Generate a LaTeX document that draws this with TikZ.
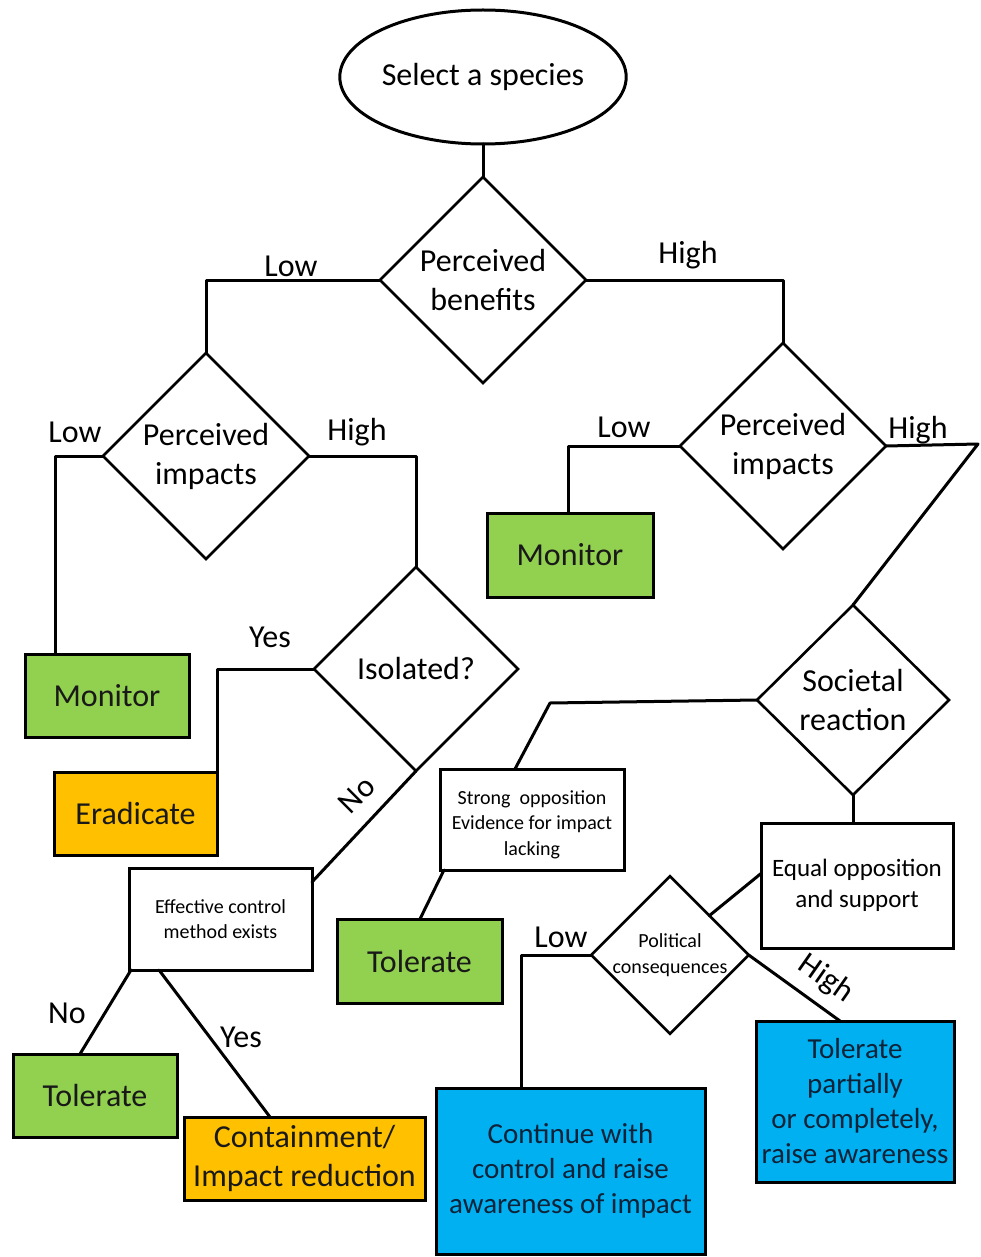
\documentclass[tikz,border=0pt]{standalone}
\usepackage{fontspec}
\setmainfont{Carlito}
\usetikzlibrary{shapes.geometric}
\definecolor{cgreen}{HTML}{92D050}
\definecolor{corange}{HTML}{FFC000}
\definecolor{cblue}{HTML}{00B0F0}
\definecolor{navytext}{HTML}{0E2238}
\begin{document}
\begin{tikzpicture}[x=1pt,y=-1pt,
  every node/.style={inner sep=0pt, outer sep=0pt},
  conn/.style={line width=3pt, line cap=round, line join=round},
  bigtext/.style={font=\fontsize{32}{39}\selectfont},
  midtext/.style={font=\fontsize{29}{35}\selectfont},
  eqtext/.style={font=\fontsize{25}{31}\selectfont},
  smalltext/.style={font=\fontsize{20}{25.5}\selectfont},
  decision/.style={diamond, draw, line width=2.6pt, align=center, bigtext},
  outbox/.style={rectangle, draw, line width=3pt, align=center},
  greenbox/.style={outbox, fill=cgreen, bigtext, text=black!90},
  orangebox/.style={outbox, fill=corange, bigtext, text=black!90},
  bluebox/.style={outbox, fill=cblue, midtext, text=navytext},
  whitebox/.style={outbox, fill=white, smalltext},
  lbl/.style={bigtext}
]
\useasboundingbox (0,0) rectangle (981,1257);
\fill[white] (0,0) rectangle (981,1257);

% start
\node[ellipse, draw, line width=3pt, minimum width=276pt, minimum height=134pt, bigtext] (sel) at (483,77) {Select a species};

% decisions
\node[decision, minimum width=206pt, minimum height=206pt] (pb) at (483,280) {Perceived\\benefits};
\node[decision, minimum width=206pt, minimum height=206pt] (pi1) at (206,456) {Perceived\\impacts};
\node[decision, minimum width=204pt, minimum height=204pt] (iso) at (416,669) {Isolated?};
\node[decision, minimum width=206pt, minimum height=206pt] (pi2) at (783,446) {Perceived\\impacts};
\node[decision, minimum width=192pt, minimum height=190pt] (soc) at (853,700) {Societal\\reaction};
\node[decision, minimum width=156pt, minimum height=157pt, smalltext] (pol) at (670,955) {Political\\consequences};

% outcome boxes
\node[greenbox, minimum width=164pt, minimum height=83pt] (mon1) at (107,695.5) {Monitor};
\node[orangebox, minimum width=163pt, minimum height=83pt] (erad) at (135.5,813.5) {Eradicate};
\node[whitebox, minimum width=183pt, minimum height=102pt] (eff) at (220.5,919) {Effective control\\method exists};
\node[greenbox, minimum width=164pt, minimum height=83pt] (tol1) at (95,1095.5) {Tolerate};
\node[orangebox, minimum width=241pt, minimum height=83pt] (cont) at (304.5,1158.5) {Containment/\\Impact reduction};
\node[greenbox, minimum width=166pt, minimum height=84pt] (mon2) at (570,555) {Monitor};
\node[whitebox, minimum width=184pt, minimum height=101pt] (strong) at (532,819.5) {\\[-2pt]Strong\ \ opposition\\Evidence for impact\\lacking};
\node[outbox, fill=white, eqtext, minimum width=192pt, minimum height=125pt] (equal) at (857,885.5) {Equal opposition\\and support};
\node[greenbox, minimum width=165pt, minimum height=84pt] (tol2) at (419.5,961) {Tolerate};
\node[bluebox, minimum width=269pt, minimum height=166pt] (contw) at (570.5,1171) {Continue with\\control and raise\\awareness of impact};
\node[bluebox, minimum width=198pt, minimum height=161pt] (tolp) at (855,1101.5) {Tolerate\\partially\\or completely,\\raise awareness};

% helper coordinates
\coordinate (hc) at (978,444);
\coordinate (sc) at (550,703);

% connectors
\draw[conn] (sel.south) -- (pb.north);
\draw[conn] (pb.west) -| (pi1.north);
\draw[conn] (pb.east) -| (pi2.north);
\draw[conn] (pi1.west) -| ([xshift=30pt]mon1.north west);
\draw[conn] (pi1.east) -| (iso.north);
\draw[conn] (iso.west) -| (erad.north east);
\draw[conn] (iso.south) -- ([yshift=-14pt]eff.north east);
\draw[conn] ([xshift=2pt]eff.south west) -- ([xshift=67pt]tol1.north west);
\draw[conn] ([xshift=30pt]eff.south west) -- ([xshift=86pt]cont.north west);
\draw[conn] (pi2.west) -| ([xshift=81pt]mon2.north west);
\draw[conn] (pi2.east) -- (hc) -- (soc.north);
\draw[conn] (soc.west) -- (sc) -- ([xshift=75pt]strong.north west);
\draw[conn] ([xshift=4pt]strong.south west) -- ([xshift=83pt]tol2.north west);
\draw[conn] (soc.south) -- (soc.south |- equal.north);
\draw[conn] ([yshift=12pt]equal.west) -- (pol.north east);
\draw[conn] (pol.west) -| ([xshift=85pt]contw.north west);
\draw[conn] (pol.east) -- ([xshift=84pt]tolp.north west);

% labels
\node[lbl] (l1) at (291,266) {Low};
\node[lbl] (l2) at (688,255) {High};
\node[lbl] (l3) at (75,432) {Low};
\node[lbl] (l4) at (357,432) {High};
\node[lbl] (l5) at (270,637) {Yes};
\node[lbl] (l6) at (357,795) [rotate=45] {No};
\node[lbl] (l7) at (67,1013) {No};
\node[lbl] (l8) at (241,1037) {Yes};
\node[lbl] (l9) at (624,427) {Low};
\node[lbl] (l10) at (918,430) {High};
\node[lbl] (l11) at (561,937) {Low};
\node[lbl] (l12) at (826,979) [rotate=-35] {High};
\end{tikzpicture}
\end{document}
